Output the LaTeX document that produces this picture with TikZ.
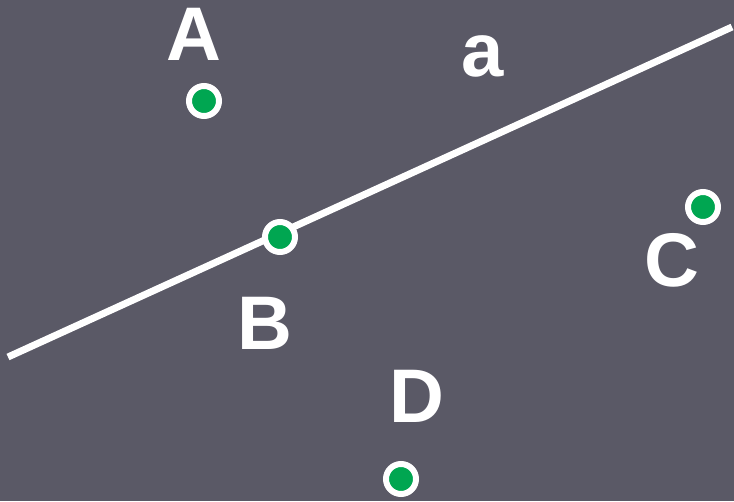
\documentclass[tikz,border=0pt]{standalone}
\usepackage{fontspec}
\setmainfont{Liberation Sans}
\usetikzlibrary{positioning}

\definecolor{bgcol}{HTML}{5A5966}
\definecolor{dotgreen}{HTML}{00A651}

\tikzset{
    pt/.style={circle, fill=dotgreen, draw=white, line width=6pt, minimum size=30pt, inner sep=0pt},
    lbl/.style={text=white, font=\fontsize{76}{76}\selectfont\bfseries, inner sep=0pt}
}

\begin{document}
\begin{tikzpicture}[x=1pt, y=-1pt]
    \fill[bgcol] (0,0) rectangle (734,501);
    \useasboundingbox (0,0) rectangle (734,501);

    \coordinate (l1) at (8,357);
    \coordinate (l2) at (732,27);
    \draw[white, line width=7pt] (l1) -- (l2);

    \node[pt] (A) at (204,101) {};
    \node[pt] (B) at (280,237) {};
    \node[pt] (C) at (703,207) {};
    \node[pt] (D) at (401,479) {};

    \node[lbl] (la) at (194,34) {A};
    \node[lbl] (lb) at (265,323) {B};
    \node[lbl] (lc) at (672,260) {C};
    \node[lbl] (ld) at (417,396) {D};
    \node[lbl] (lline) at (483,56) {a};
\end{tikzpicture}
\end{document}
